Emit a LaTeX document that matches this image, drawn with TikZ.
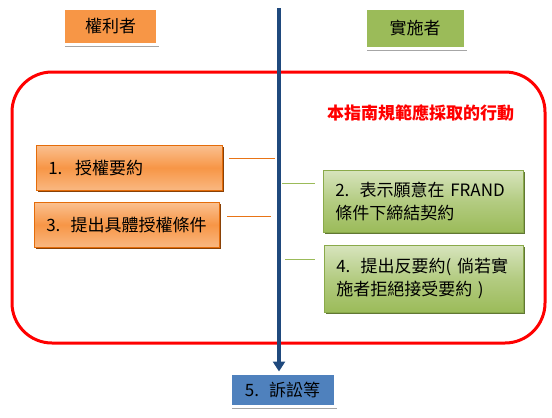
\documentclass[tikz,border=0pt]{standalone}
\usepackage{fontspec}
\setmainfont{Noto Sans CJK TC}
\usetikzlibrary{shadows,arrows.meta}
\definecolor{orng}{HTML}{F79646}
\definecolor{orngL}{HTML}{FAC090}
\definecolor{orngE}{HTML}{E46C0A}
\definecolor{grn}{HTML}{9BBB59}
\definecolor{grnL}{HTML}{D7E4BD}
\definecolor{grnE}{HTML}{8AAA4A}
\definecolor{blu}{HTML}{4F81BD}
\definecolor{dblu}{HTML}{1F497D}
\definecolor{redc}{HTML}{FF0000}
\tikzset{
  hdr/.style={draw=white, line width=3pt, inner sep=0pt, anchor=north west,
    drop shadow={shadow xshift=1.5pt, shadow yshift=-2.5pt, opacity=1, fill=black!35}},
  obox/.style={draw=orngE, line width=0.6pt, anchor=north west, align=left, inner xsep=12pt,
    top color=orngL, bottom color=orngL!80!orng, middle color=orng,
    drop shadow={shadow xshift=1.5pt, shadow yshift=-2pt, opacity=1, fill=orngE!60!black}},
  gbox/.style={draw=grnE, line width=0.6pt, anchor=north west, align=left, inner xsep=12pt,
    top color=grnL, bottom color=grn, middle color=grn!60!grnL,
    drop shadow={shadow xshift=1.5pt, shadow yshift=-2pt, opacity=1, fill=grnE!70!black}},
  oline/.style={draw=orngE!80!orng, line width=1pt},
  gline/.style={draw=grn, line width=1pt},
}
\begin{document}
\begin{tikzpicture}[x=1pt,y=-1pt, font=\fontsize{17}{23}\selectfont]
\useasboundingbox (0,0) rectangle (552,418);
% header boxes
\node[hdr, fill=orng, minimum width=94pt, minimum height=36pt] (h1) at (62,6.5) {權利者};
\node[hdr, fill=grn, minimum width=100pt, minimum height=40pt] (h2) at (363.5,6.5) {實施者};
% red rounded frame
\draw[redc, line width=3pt, rounded corners=40pt] (12,72) rectangle (545,343);
\node[text=redc, font=\fontsize{17}{20}\selectfont\bfseries] (title) at (420.5,113) {本指南規範應採取的行動};
% boxes
\node[obox, minimum width=186pt, minimum height=45pt, text width=162pt] (b1) at (36,145) {1.\hspace{0.75em}授權要約};
\node[obox, minimum width=185pt, minimum height=45pt, text width=161pt] (b3) at (34,202) {3.\hspace{0.6em}提出具體授權條件};
\node[gbox, minimum width=198pt, minimum height=62pt, text width=176pt] (b2) at (323,170) {2.\hspace{0.6em}表示願意在 FRAND\\條件下締結契約};
\node[gbox, minimum width=197pt, minimum height=67pt, text width=175pt] (b4) at (324,245) {4.\hspace{0.6em}提出反要約( 倘若實\\施者拒絕接受要約 )};
% main axis
\coordinate (top) at (279,8);
\node[hdr, fill=blu, minimum width=105pt, minimum height=33pt] (b5) at (228.5,371.5) {5.\hspace{0.6em}訴訟等};
\draw[dblu, line width=3.5pt, -{Triangle[length=10pt,width=12pt]}] (top) -- (b5.north -| top);
% short connectors
\coordinate (c1a) at (229,158); \coordinate (c1b) at (275,158);
\coordinate (c3a) at (227,216); \coordinate (c3b) at (271,216);
\coordinate (c2a) at (282,183); \coordinate (c2b) at (315,183);
\coordinate (c4a) at (285,259); \coordinate (c4b) at (315,259);
\draw[oline] (c1a) -- (c1b);
\draw[oline] (c3a) -- (c3b);
\draw[gline] (c2a) -- (c2b);
\draw[gline] (c4a) -- (c4b);
\end{tikzpicture}
\end{document}
